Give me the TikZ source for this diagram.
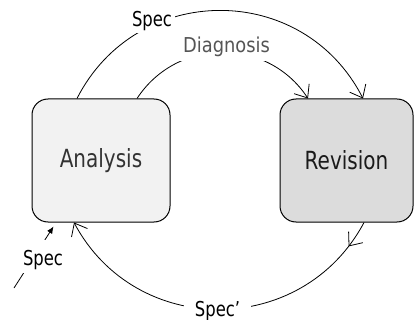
\documentclass[tikz,border=0pt]{standalone}
\usepackage{fontspec}
\setmainfont{DejaVu Sans}[FakeStretch=0.8]
\newfontfamily\diagfont{DejaVu Sans}[FakeStretch=0.87]
\usetikzlibrary{arrows.meta,calc,decorations.markings}

\definecolor{anafill}{HTML}{F2F2F2}
\definecolor{revfill}{HTML}{DCDCDC}
\definecolor{anatext}{HTML}{333333}
\definecolor{revtext}{HTML}{1A1A1A}
\definecolor{diagtext}{HTML}{555555}

\begin{document}
\begin{tikzpicture}[x=1pt,y=-1pt,
  stage/.style={draw=black, line width=1pt, rounded corners=16pt,
    minimum height=123pt, inner sep=0pt, font=\fontsize{25}{30}\selectfont},
  barb/.style={line width=0.8pt, -{Straight Barb[length=11pt,width=18pt]}},
  tag/.style={fill=white, anchor=base, inner ysep=2pt, inner xsep=3pt,
    font=\fontsize{20.5}{24}\selectfont},
  midbarb/.style={postaction={decorate, decoration={markings,
    mark=at position #1 with {\arrow{Straight Barb[length=11pt,width=18pt]}}}}}
]
\useasboundingbox (0,0) rectangle (414,320);

% the two stages
\node[stage, fill=anafill, text=anatext, minimum width=138pt] (ana) at (101,160.5) {Analysis};
\node[stage, fill=revfill, text=revtext, minimum width=133pt] (rev) at (346.5,160.5) {Revision};

% attachment points on the stage borders
\coordinate (anaTopL) at ($(ana.north)+(-24,0)$);
\coordinate (anaTopR) at ($(ana.north)+(36,0)$);
\coordinate (anaBot)  at ($(ana.south)+(-27,0)$);
\coordinate (revTopL) at ($(rev.north)+(-38.5,0)$);
\coordinate (revTopR) at ($(rev.north)+(16.5,0)$);
\coordinate (revBot)  at ($(rev.south)+(17.5,0)$);
\coordinate (inTip)   at ($(ana.south west)+(22,4)$);
\coordinate (inStart) at (14,288);

% outer arc: Spec from Analysis to Revision
\draw[barb] (anaTopL) .. controls +(59.7,-117.3) and +(-59.7,-117.3) .. (revTopR);
% inner arc: Diagnosis
\draw[barb] (anaTopR) .. controls +(40.3,-61.5) and +(-40.3,-61.5) .. (revTopL);
% lower arc: Spec' back to Analysis
\draw[barb, midbarb=0.08] (revBot) .. controls +(-61.6,115.8) and +(61.6,115.8) .. (anaBot);
% incoming specification
\draw[line width=0.8pt, -{Latex[length=7pt,width=6pt]}] (inStart) -- (inTip);

% labels on the arcs
\node[tag] (specTop) at (152,27) {Spec};
\node[tag, inner ysep=4.2pt, text=diagtext, font=\diagfont\fontsize{20.5}{24}\selectfont]
  (diag) at (226.5,53) {Diagnosis};
\node[tag, inner xsep=10.5pt] (specBot) at (217.5,316) {Spec’};
\node[tag, inner sep=0pt, text height=25pt, text depth=8pt] (specIn) at (43,265) {Spec};
\end{tikzpicture}
\end{document}
